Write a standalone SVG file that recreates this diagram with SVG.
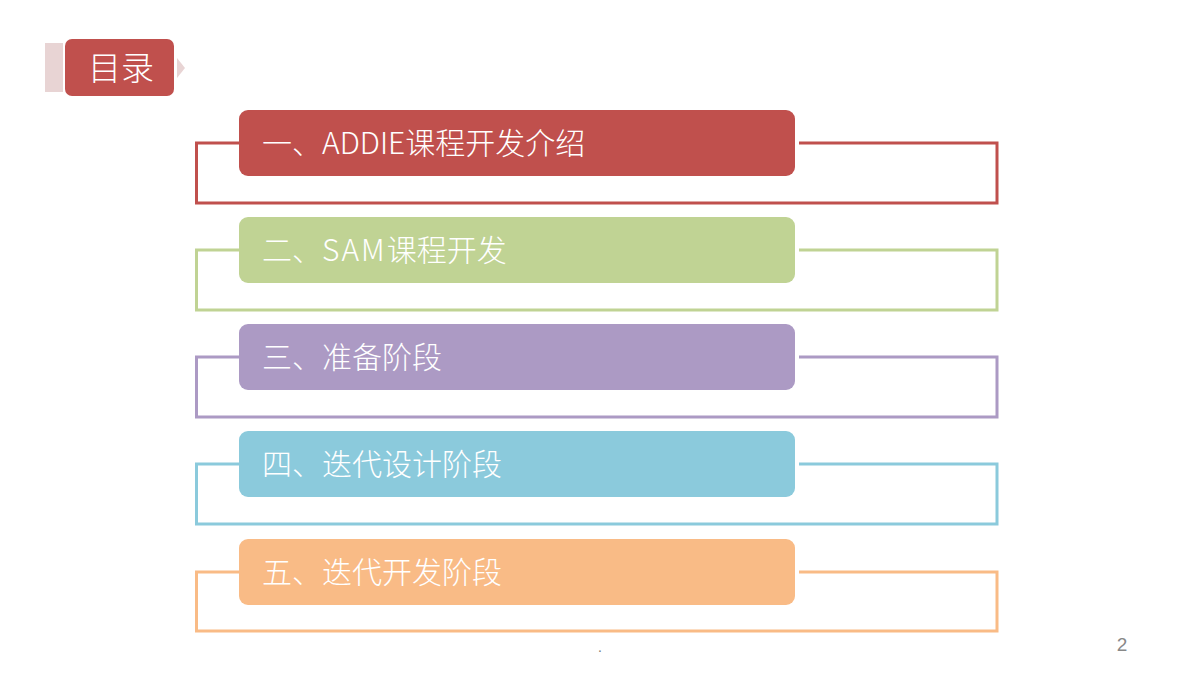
<svg xmlns="http://www.w3.org/2000/svg" width="1200" height="675" viewBox="0 0 1200 675">
<style>
.t{font-family:"Noto Sans CJK SC","Noto Sans",sans-serif;font-size:30px;font-weight:300;fill:#ffffff}
.br{fill:none;stroke-width:3}
</style>
<rect width="1200" height="675" fill="#ffffff"/>
<g id="title">
<rect x="45" y="43" width="18" height="49" fill="#E8D4D4"/>
<rect x="65" y="39" width="109" height="57" rx="7" fill="#C0504D"/>
<polygon points="177,58 185,68 177,78" fill="#E8D4D4"/>
<text x="88" y="80" style="font-family:'Noto Sans CJK SC',sans-serif;font-size:33px;fill:#fff;font-weight:300">目录</text>
</g>
<g id="connectors">
<path class="br" stroke="#C0504D" d="M239,143 H196.5 V203 H997 V143 H799"/>
<path class="br" stroke="#C0D394" d="M239,250 H196.5 V310 H997 V250 H799"/>
<path class="br" stroke="#AC9AC4" d="M239,357 H196.5 V417 H997 V357 H799"/>
<path class="br" stroke="#8BCADC" d="M239,464 H196.5 V524 H997 V464 H799"/>
<path class="br" stroke="#F9BB86" d="M239,572 H196.5 V631 H997 V572 H799"/>
</g>
<g id="n1"><rect x="239" y="110" width="556" height="66" rx="9" fill="#C0504D"/><text class="t" x="262" y="154">一、ADDIE课程开发介绍</text></g>
<g id="n2"><rect x="239" y="217" width="556" height="66" rx="9" fill="#C0D394"/><text class="t" x="262" y="261">二、<tspan letter-spacing="2">SAM</tspan>课程开发</text></g>
<g id="n3"><rect x="239" y="324" width="556" height="66" rx="9" fill="#AC9AC4"/><text class="t" x="262" y="368">三、准备阶段</text></g>
<g id="n4"><rect x="239" y="431" width="556" height="66" rx="9" fill="#8BCADC"/><text class="t" x="262" y="475">四、迭代设计阶段</text></g>
<g id="n5"><rect x="239" y="539" width="556" height="66" rx="9" fill="#F9BB86"/><text class="t" x="262" y="583">五、迭代开发阶段</text></g>
<text x="600" y="652" text-anchor="middle" style="font-family:'Liberation Sans',sans-serif;font-size:14px;fill:#777">.</text>
<text x="1122" y="651" text-anchor="middle" style="font-family:'Liberation Sans',sans-serif;font-size:19px;fill:#888">2</text>
</svg>
